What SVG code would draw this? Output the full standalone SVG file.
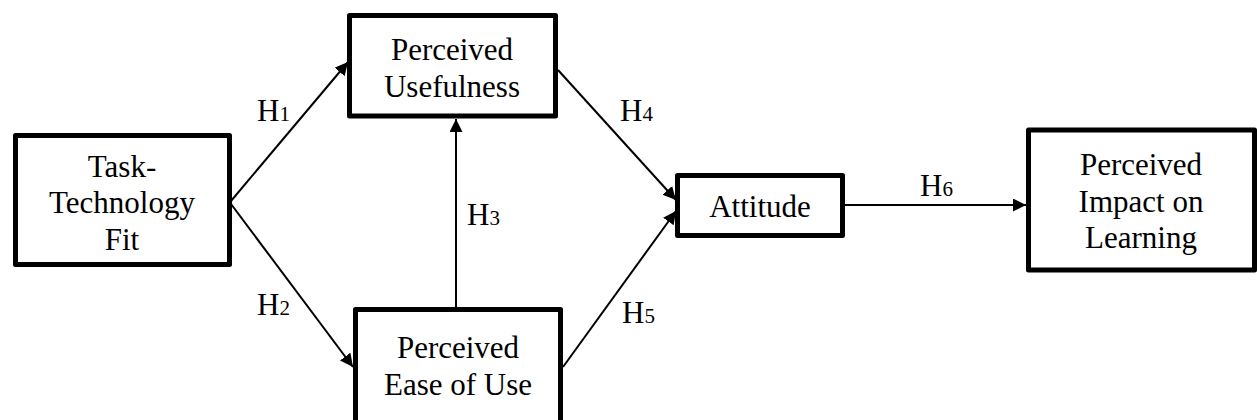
<svg xmlns="http://www.w3.org/2000/svg" width="1257" height="420" viewBox="0 0 1257 420">
<style>
.box{fill:#fff;stroke:#000;stroke-width:5;stroke-linejoin:round}
.t{font-family:"Liberation Serif","Times New Roman",serif;font-size:31px;fill:#000;text-anchor:middle}
.lbl{font-family:"Liberation Serif","Times New Roman",serif;font-size:31px;fill:#000}
.sub{font-size:21px}
.conn{stroke:#000;stroke-width:2;fill:none}
</style>
<defs>
<marker id="arr" markerUnits="userSpaceOnUse" markerWidth="14" markerHeight="14" refX="13" refY="6.5" orient="auto">
<path d="M0,0 L13,6.5 L0,13 z" fill="#000"/>
</marker>
</defs>
<rect width="1257" height="420" fill="#fff"/>
<g id="connectors">
<line class="conn" x1="231" y1="201" x2="348" y2="62" marker-end="url(#arr)"/>
<line class="conn" x1="231" y1="204" x2="353" y2="367" marker-end="url(#arr)"/>
<line class="conn" x1="456" y1="309" x2="456" y2="119" marker-end="url(#arr)"/>
<line class="conn" x1="558" y1="70" x2="676" y2="200" marker-end="url(#arr)"/>
<line class="conn" x1="563" y1="367" x2="676" y2="211" marker-end="url(#arr)"/>
<line class="conn" x1="845" y1="205" x2="1026" y2="205" marker-end="url(#arr)"/>
</g>
<g id="labels">
<text class="lbl" x="257" y="121">H<tspan class="sub">1</tspan></text>
<text class="lbl" x="257" y="315">H<tspan class="sub">2</tspan></text>
<text class="lbl" x="467" y="225">H<tspan class="sub">3</tspan></text>
<text class="lbl" x="620" y="121">H<tspan class="sub">4</tspan></text>
<text class="lbl" x="622" y="323">H<tspan class="sub">5</tspan></text>
<text class="lbl" x="920" y="196">H<tspan class="sub">6</tspan></text>
</g>
<g id="ttf">
<rect class="box" x="15.5" y="135.5" width="214" height="129"/>
<text class="t" x="122" y="177">Task-</text>
<text class="t" x="122" y="213">Technology</text>
<text class="t" x="122" y="250">Fit</text>
</g>
<g id="pu">
<rect class="box" x="349.5" y="15.5" width="206" height="100.5"/>
<text class="t" x="452" y="60">Perceived</text>
<text class="t" x="452" y="97">Usefulness</text>
</g>
<g id="peou">
<rect class="box" x="355.5" y="309.5" width="205" height="130"/>
<text class="t" x="458" y="358">Perceived</text>
<text class="t" x="458" y="395">Ease of Use</text>
</g>
<g id="attitude">
<rect class="box" x="677.5" y="175.5" width="165" height="60"/>
<text class="t" x="760" y="217">Attitude</text>
</g>
<g id="pil">
<rect class="box" x="1028.5" y="130" width="226" height="140"/>
<text class="t" x="1141" y="175">Perceived</text>
<text class="t" x="1141" y="212">Impact on</text>
<text class="t" x="1141" y="248">Learning</text>
</g>
</svg>
